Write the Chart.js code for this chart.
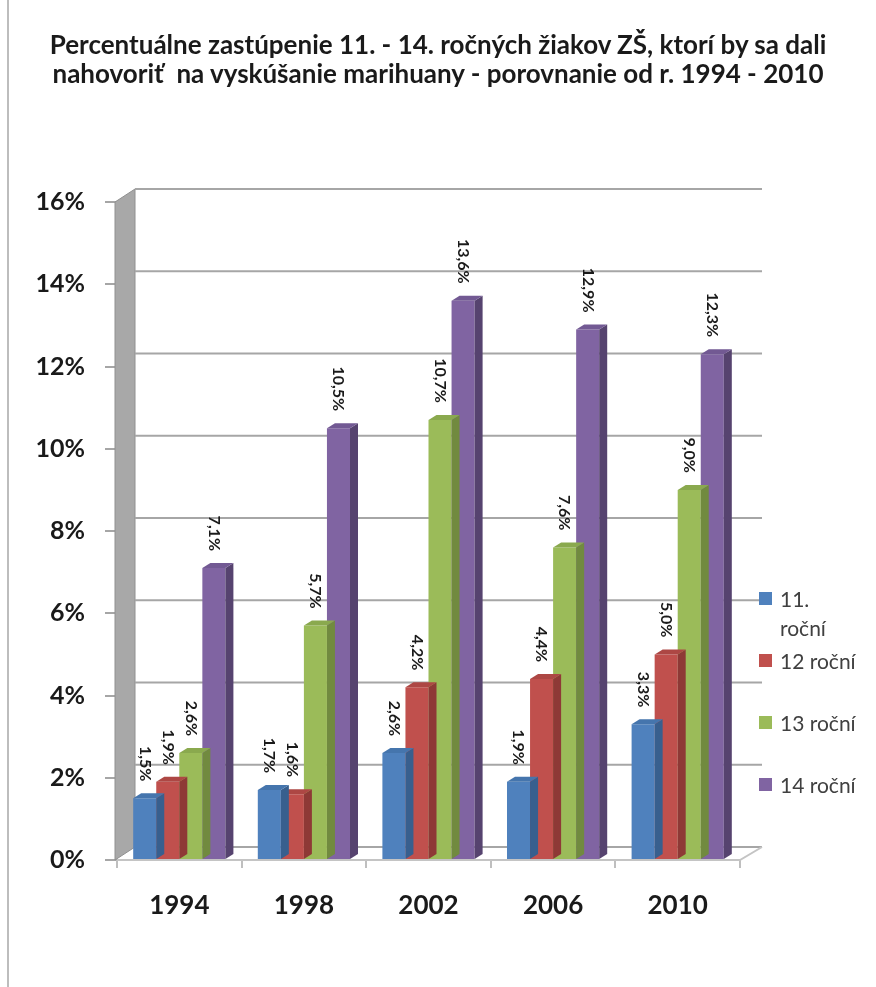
<!DOCTYPE html>
<html>
<head>
<meta charset="utf-8">
<script src="https://cdn.jsdelivr.net/npm/chart.js@4.4.1/dist/chart.umd.min.js"></script>
<style>
  body { margin: 0; background: #fff; font-family: Lato, sans-serif; }
  #wrap { position: relative; width: 876px; height: 987px; }
  #frame { position: absolute; left: 7px; top: 0; width: 2px; height: 987px; background: #bdbdbd; }
  #title { position: absolute; left: 0; top: 30px; width: 876px; text-align: center;
           font: bold 26px Lato, sans-serif; line-height: 29px; color: #1a1a1a; white-space: pre; }
  #legend { position: absolute; left: 759px; top: 584px; }
  .item { height: 62px; display: flex; align-items: flex-start; }
  .box { width: 13px; height: 13px; margin-top: 8px; margin-right: 8px; }
  .lbl { font: 21px Lato, sans-serif; line-height: 29px; color: #404040; white-space: pre-line; }
</style>
</head>
<body>
<div id="wrap">
  <div id="frame"></div>
  <canvas id="myChart" width="876" height="987"></canvas>
  <div id="title">Percentuálne zastúpenie 11. - 14. ročných žiakov ZŠ, ktorí by sa dali
nahovoriť  na vyskúšanie marihuany - porovnanie od r. 1994 - 2010</div>
  <div id="legend"></div>
</div>
<script>
const roky = ['1994', '1998', '2002', '2006', '2010'];
const nazvy = ['11.\nroční', '12 roční', '13 roční', '14 roční'];
const rocni11 = [1.5, 1.7, 2.6, 1.9, 3.3];
const rocni12 = [1.9, 1.6, 4.2, 4.4, 5.0];
const rocni13 = [2.6, 5.7, 10.7, 7.6, 9.0];
const rocni14 = [7.1, 10.5, 13.6, 12.9, 12.3];

const farby = ['#4f81bd', '#c0504d', '#9bbb59', '#8064a2'];
const farbyVrch = ['#4575ad', '#ad4744', '#8aa94e', '#725993'];
const farbyBok = ['#385f8e', '#8e3936', '#718a3f', '#56436f'];

const hlbka = 20, vyska = 13;   // posun zadnej steny
const bokX = 8, bokY = 5;       // 3D hrana stlpca

const stena = {
    id: 'stena',
    beforeDatasetsDraw(chart) {
        const ctx = chart.ctx;
        const y = chart.scales.y;
        const a = chart.chartArea;
        const y0 = y.getPixelForValue(0);
        const yMax = y.getPixelForValue(16);
        ctx.save();
        // bocna stena
        ctx.beginPath();
        ctx.moveTo(a.left - 2, yMax);
        ctx.lineTo(a.left + hlbka - 2, yMax - vyska);
        ctx.lineTo(a.left + hlbka - 2, y0 - vyska);
        ctx.lineTo(a.left - 2, y0);
        ctx.closePath();
        ctx.fillStyle = '#a8a8a8';
        ctx.fill();
        ctx.strokeStyle = '#909090';
        ctx.lineWidth = 1;
        ctx.stroke();
        // mriezka na zadnej stene
        ctx.strokeStyle = '#a6a6a6';
        ctx.lineWidth = 2;
        y.ticks.forEach(t => {
            const py = y.getPixelForValue(t.value) - vyska;
            ctx.beginPath();
            ctx.moveTo(a.left + hlbka - 2, py);
            ctx.lineTo(a.right + hlbka + 2, py);
            ctx.stroke();
        });
        // podlaha
        ctx.strokeStyle = '#c4c4c4';
        ctx.beginPath();
        ctx.moveTo(a.left, y0);
        ctx.lineTo(a.right, y0);
        ctx.lineTo(a.right + hlbka + 2, y0 - vyska);
        ctx.stroke();
        ctx.restore();
    },
    afterDatasetDraw(chart, args) {
        const ctx = chart.ctx;
        const i = args.index;
        ctx.save();
        args.meta.data.forEach(bar => {
            const w = bar.width;
            const l = bar.x - w / 2, r = bar.x + w / 2;
            ctx.fillStyle = farbyBok[i];
            ctx.beginPath();
            ctx.moveTo(r, bar.y);
            ctx.lineTo(r + bokX, bar.y - bokY);
            ctx.lineTo(r + bokX, bar.base - bokY);
            ctx.lineTo(r, bar.base);
            ctx.closePath();
            ctx.fill();
            ctx.fillStyle = farbyVrch[i];
            ctx.beginPath();
            ctx.moveTo(l, bar.y);
            ctx.lineTo(l + bokX, bar.y - bokY);
            ctx.lineTo(r + bokX, bar.y - bokY);
            ctx.lineTo(r, bar.y);
            ctx.closePath();
            ctx.fill();
        });
        ctx.restore();
    },
    afterDatasetsDraw(chart) {
        const ctx = chart.ctx;
        ctx.save();
        ctx.font = 'bold 16px Lato, sans-serif';
        ctx.fillStyle = '#1a1a1a';
        ctx.textAlign = 'right';
        ctx.textBaseline = 'middle';
        chart.data.datasets.forEach((ds, i) => {
            chart.getDatasetMeta(i).data.forEach((bar, j) => {
                const txt = ds.data[j].toFixed(1).replace('.', ',') + '%';
                ctx.save();
                ctx.translate(bar.x, bar.y - 17);
                ctx.rotate(Math.PI / 2);
                ctx.fillText(txt, 0, 0);
                ctx.restore();
            });
        });
        ctx.restore();
    }
};

const ctx = document.getElementById('myChart').getContext('2d');
const myChart = new Chart(ctx, {
    type: 'bar',
    data: {
        labels: roky,
        datasets: [rocni11, rocni12, rocni13, rocni14].map((d, i) => ({
            label: nazvy[i].replace('\n', ' '),
            data: d,
            backgroundColor: farby[i],
            categoryPercentage: 0.74,
            barPercentage: 1
        }))
    },
    options: {
        responsive: false,
        animation: false,
        devicePixelRatio: 1,
        layout: { padding: { left: 17, right: 136, top: 202, bottom: 17 } },
        plugins: {
            legend: { display: false },
            tooltip: { enabled: false }
        },
        scales: {
            y: {
                min: 0,
                max: 16,
                afterFit: s => { s.width = 100; },
                border: { display: false },
                grid: { drawOnChartArea: false, drawTicks: true, tickLength: 12, color: '#a6a6a6', lineWidth: 2 },
                ticks: {
                    stepSize: 2,
                    padding: 20,
                    color: '#1a1a1a',
                    font: { family: 'Lato', size: 25, weight: 'bold' },
                    callback: v => v + '%'
                }
            },
            x: {
                afterFit: s => { s.height = 110; },
                border: { display: false },
                grid: { drawOnChartArea: false, drawTicks: true, tickLength: 8, color: '#bfbfbf', lineWidth: 2 },
                ticks: {
                    padding: 22,
                    color: '#1a1a1a',
                    font: { family: 'Lato', size: 26, weight: 'bold' }
                }
            }
        }
    },
    plugins: [stena]
});

const legenda = document.getElementById('legend');
nazvy.forEach((n, i) => {
    legenda.innerHTML += '<div class="item"><div class="box" style="background:' + farby[i] +
        '"></div><div class="lbl">' + n + '</div></div>';
});
</script>
</body>
</html>
